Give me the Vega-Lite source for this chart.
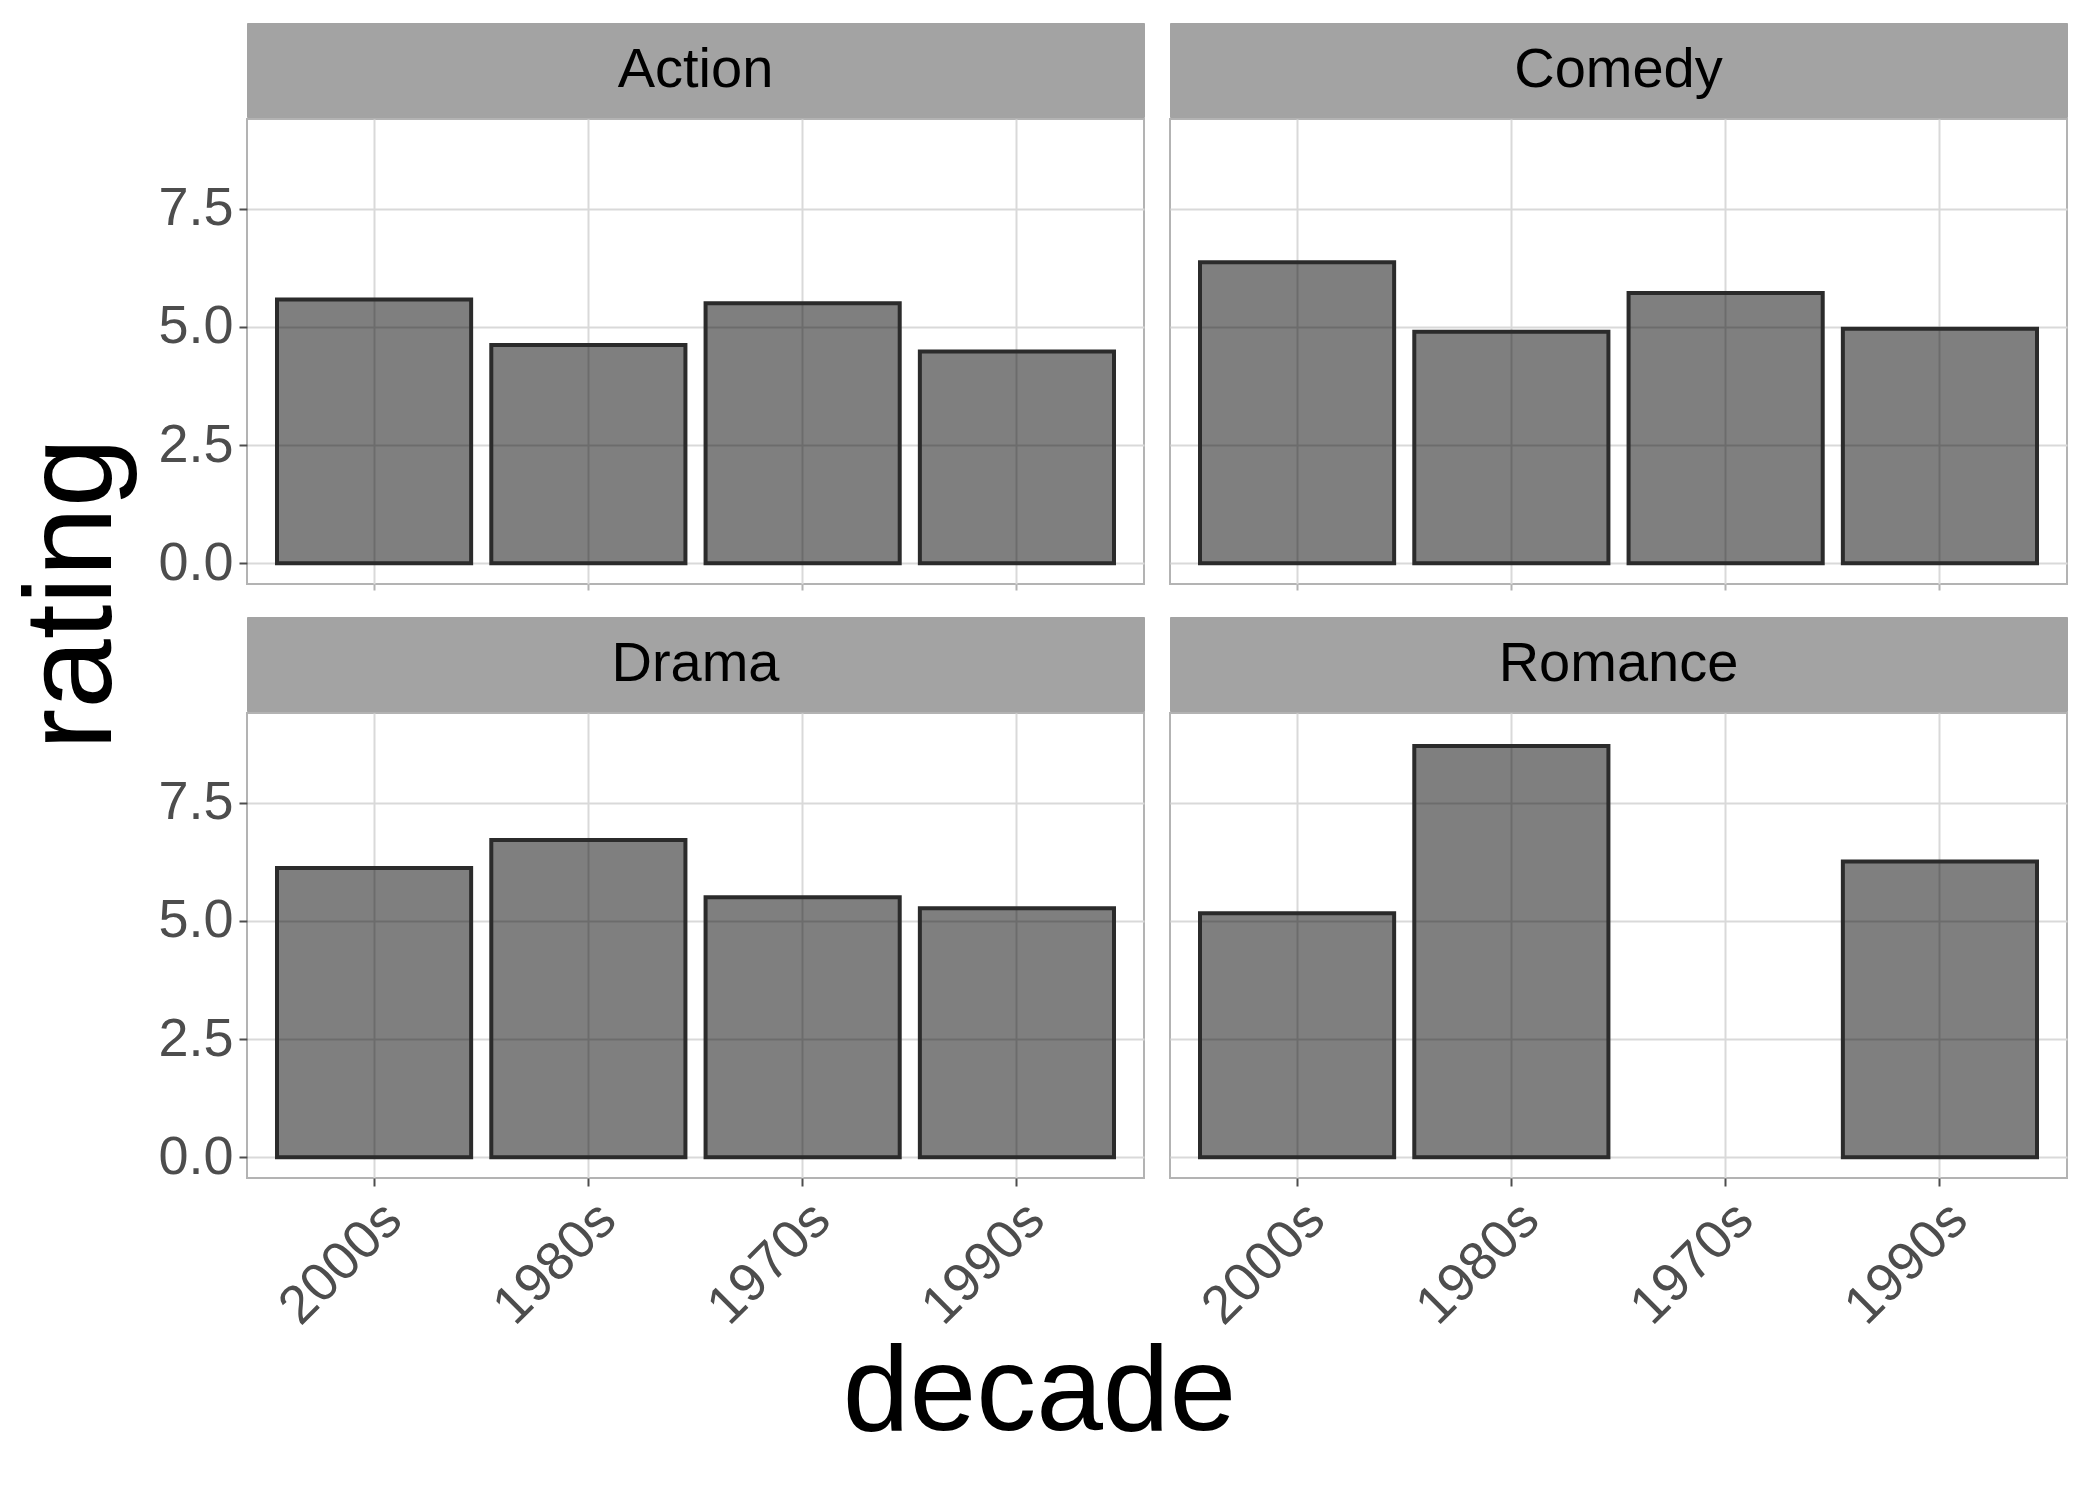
{
  "$schema": "https://vega.github.io/schema/vega-lite/v6.json",
  "background": "white",
  "padding": {"left": 10, "top": 22, "right": 10, "bottom": 5},
  "data": {"values": [
    {"genre": "Action", "decade": "2000s", "rating": 5.58},
    {"genre": "Action", "decade": "1980s", "rating": 4.62},
    {"genre": "Action", "decade": "1970s", "rating": 5.5},
    {"genre": "Action", "decade": "1990s", "rating": 4.48},
    {"genre": "Comedy", "decade": "2000s", "rating": 6.37},
    {"genre": "Comedy", "decade": "1980s", "rating": 4.9},
    {"genre": "Comedy", "decade": "1970s", "rating": 5.72},
    {"genre": "Comedy", "decade": "1990s", "rating": 4.96},
    {"genre": "Drama", "decade": "2000s", "rating": 6.12},
    {"genre": "Drama", "decade": "1980s", "rating": 6.71},
    {"genre": "Drama", "decade": "1970s", "rating": 5.5},
    {"genre": "Drama", "decade": "1990s", "rating": 5.27},
    {"genre": "Romance", "decade": "2000s", "rating": 5.16},
    {"genre": "Romance", "decade": "1980s", "rating": 8.7},
    {"genre": "Romance", "decade": "1990s", "rating": 6.26}
  ]},
  "title": {"text": "decade", "orient": "bottom", "anchor": "middle", "fontSize": 120, "fontWeight": "normal", "font": "Liberation Sans", "color": "black", "offset": 0},
  "hconcat": [
    {
      "width": 100, "height": 1142,
      "data": {"values": [{"t": "rating"}]},
      "view": {"stroke": null},
      "mark": {"type": "text", "angle": 270, "fontSize": 125, "font": "Liberation Sans", "color": "black"},
      "encoding": {"text": {"field": "t"}}
    },
    {
      "spacing": 24,
      "vconcat": [
        {"spacing": 24, "hconcat": [
          {"spacing": 0, "vconcat": [
            {"width": 897, "height": 94, "view": {"fill": "#a3a3a3", "stroke": "#a3a3a3"}, "data": {"values": [{"g": "Action"}]}, "mark": {"type": "text", "fontSize": 56, "font": "Liberation Sans", "color": "black"}, "encoding": {"text": {"field": "g"}}},
            {"width": 897, "height": 465, "transform": [{"filter": "datum.genre === 'Action'"}], "mark": {"type": "bar", "fill": "black", "fillOpacity": 0.5, "stroke": "#2b2b2b", "strokeWidth": 4},
             "encoding": {
               "x": {"field": "decade", "type": "nominal", "sort": ["2000s", "1980s", "1970s", "1990s"], "scale": {"domain": ["2000s", "1980s", "1970s", "1990s"], "paddingInner": 0.094, "paddingOuter": 0.14}, "axis": {"labels": false, "title": null, "grid": true, "bandPosition": 0.5, "tickColor": "#b3b3b3", "tickSize": 6, "domain": false}},
               "y": {"field": "rating", "type": "quantitative", "scale": {"domain": [-0.44, 9.4], "nice": false, "zero": false}, "axis": {"values": [0, 2.5, 5, 7.5], "format": ".1f", "title": null}}
             }}
          ]},
          {"spacing": 0, "vconcat": [
            {"width": 897, "height": 94, "view": {"fill": "#a3a3a3", "stroke": "#a3a3a3"}, "data": {"values": [{"g": "Comedy"}]}, "mark": {"type": "text", "fontSize": 56, "font": "Liberation Sans", "color": "black"}, "encoding": {"text": {"field": "g"}}},
            {"width": 897, "height": 465, "transform": [{"filter": "datum.genre === 'Comedy'"}], "mark": {"type": "bar", "fill": "black", "fillOpacity": 0.5, "stroke": "#2b2b2b", "strokeWidth": 4},
             "encoding": {
               "x": {"field": "decade", "type": "nominal", "sort": ["2000s", "1980s", "1970s", "1990s"], "scale": {"domain": ["2000s", "1980s", "1970s", "1990s"], "paddingInner": 0.094, "paddingOuter": 0.14}, "axis": {"labels": false, "title": null, "grid": true, "bandPosition": 0.5, "tickColor": "#b3b3b3", "tickSize": 6, "domain": false}},
               "y": {"field": "rating", "type": "quantitative", "scale": {"domain": [-0.44, 9.4], "nice": false, "zero": false}, "axis": {"values": [0, 2.5, 5, 7.5], "labels": false, "ticks": false, "title": null}}
             }}
          ]}
        ]},
        {"spacing": 24, "hconcat": [
          {"spacing": 0, "vconcat": [
            {"width": 897, "height": 94, "view": {"fill": "#a3a3a3", "stroke": "#a3a3a3"}, "data": {"values": [{"g": "Drama"}]}, "mark": {"type": "text", "fontSize": 56, "font": "Liberation Sans", "color": "black"}, "encoding": {"text": {"field": "g"}}},
            {"width": 897, "height": 465, "transform": [{"filter": "datum.genre === 'Drama'"}], "mark": {"type": "bar", "fill": "black", "fillOpacity": 0.5, "stroke": "#2b2b2b", "strokeWidth": 4},
             "encoding": {
               "x": {"field": "decade", "type": "nominal", "sort": ["2000s", "1980s", "1970s", "1990s"], "scale": {"domain": ["2000s", "1980s", "1970s", "1990s"], "paddingInner": 0.094, "paddingOuter": 0.14}, "axis": {"labelAngle": -45, "title": null, "grid": true, "bandPosition": 0.5, "tickColor": "#4d4d4d", "tickSize": 8, "domain": false}},
               "y": {"field": "rating", "type": "quantitative", "scale": {"domain": [-0.44, 9.4], "nice": false, "zero": false}, "axis": {"values": [0, 2.5, 5, 7.5], "format": ".1f", "title": null}}
             }}
          ]},
          {"spacing": 0, "vconcat": [
            {"width": 897, "height": 94, "view": {"fill": "#a3a3a3", "stroke": "#a3a3a3"}, "data": {"values": [{"g": "Romance"}]}, "mark": {"type": "text", "fontSize": 56, "font": "Liberation Sans", "color": "black"}, "encoding": {"text": {"field": "g"}}},
            {"width": 897, "height": 465, "transform": [{"filter": "datum.genre === 'Romance'"}], "mark": {"type": "bar", "fill": "black", "fillOpacity": 0.5, "stroke": "#2b2b2b", "strokeWidth": 4},
             "encoding": {
               "x": {"field": "decade", "type": "nominal", "sort": ["2000s", "1980s", "1970s", "1990s"], "scale": {"domain": ["2000s", "1980s", "1970s", "1990s"], "paddingInner": 0.094, "paddingOuter": 0.14}, "axis": {"labelAngle": -45, "title": null, "grid": true, "bandPosition": 0.5, "tickColor": "#4d4d4d", "tickSize": 8, "domain": false}},
               "y": {"field": "rating", "type": "quantitative", "scale": {"domain": [-0.44, 9.4], "nice": false, "zero": false}, "axis": {"values": [0, 2.5, 5, 7.5], "labels": false, "ticks": false, "title": null}}
             }}
          ]}
        ]}
      ]
    }
  ],
  "config": {
    "view": {"stroke": "#b3b3b3", "strokeWidth": 2},
    "axis": {"labelFont": "Liberation Sans", "labelFontSize": 54, "labelColor": "#4d4d4d", "gridColor": "#d9d9d9", "gridWidth": 2, "domain": false, "tickColor": "#4d4d4d", "tickWidth": 2, "tickSize": 8, "labelPadding": 6},
    "axisY": {"labelAlign": "right"},
    "axisX": {"labelAlign": "right", "labelBaseline": "top"}
  }
}
